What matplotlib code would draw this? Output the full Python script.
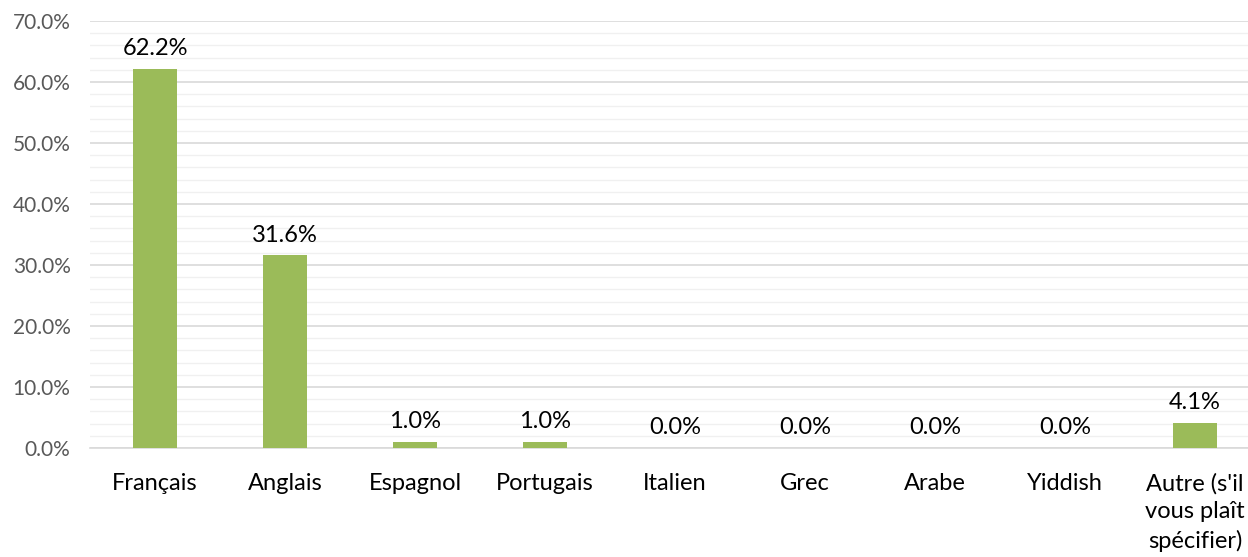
import matplotlib
matplotlib.use("Agg")
import matplotlib.pyplot as plt
from matplotlib.ticker import MultipleLocator, FuncFormatter

categories = ["Français", "Anglais", "Espagnol", "Portugais", "Italien",
              "Grec", "Arabe", "Yiddish", "Autre (s'il\nvous plaît\nspécifier)"]
values = [62.2, 31.6, 1.0, 1.0, 0.0, 0.0, 0.0, 0.0, 4.1]

plt.rcParams["font.family"] = ["Lato", "DejaVu Sans"]

fig = plt.figure(figsize=(12.48, 5.57), dpi=100)
W, H = 1248, 557
left, right = 90, 1260
top, bottom = 21, 448
ax = fig.add_axes([left / W, 1 - bottom / H, (right - left) / W, (bottom - top) / H])

x = range(len(categories))
ax.bar(x, values, width=0.34, color="#9BBB59", zorder=3)

ax.set_xlim(-0.5, len(categories) - 0.5)
ax.set_ylim(0, 70)
ax.yaxis.set_major_locator(MultipleLocator(10))
ax.yaxis.set_minor_locator(MultipleLocator(2))
ax.yaxis.set_major_formatter(FuncFormatter(lambda v, p: f"{v:.1f}%"))
ax.grid(axis="y", which="major", color="#D9D9D9", linewidth=1.2, zorder=0)
ax.grid(axis="y", which="minor", color="#F0F0F0", linewidth=1.0, zorder=0)

for s in ["top", "right", "left"]:
    ax.spines[s].set_visible(False)
ax.spines["bottom"].set_color("#D9D9D9")
ax.spines["bottom"].set_linewidth(1.2)

ax.tick_params(axis="y", which="both", length=0, labelsize=15, labelcolor="#595959", pad=14)
ax.tick_params(axis="x", length=0, labelsize=17, labelcolor="#000000", pad=18)
ax.set_xticks(list(x))
ax.set_xticklabels(categories, linespacing=1.4, va="top")

for xi, v in zip(x, values):
    ax.annotate(f"{v:.1f}%", (xi, v), xytext=(0, 7), textcoords="offset points",
                ha="center", va="bottom", fontsize=17, color="#000000")

fig.savefig("out.png", dpi=100)
